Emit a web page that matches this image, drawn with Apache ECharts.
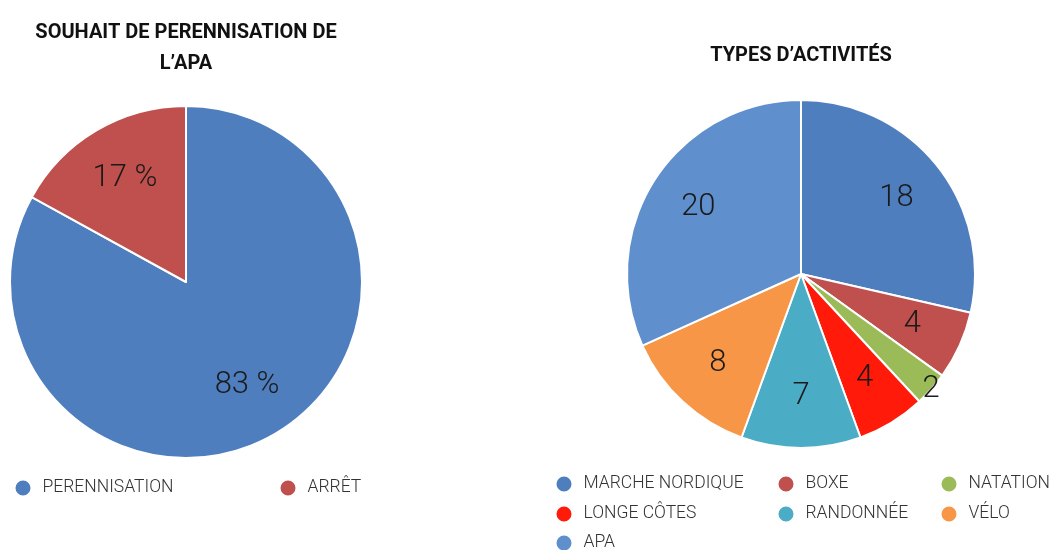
<!DOCTYPE html>
<html><head><meta charset="utf-8">
<script src="https://cdn.jsdelivr.net/npm/echarts@6/dist/echarts.min.js"></script>
<style>html,body{margin:0;padding:0;background:#fff}#c{width:1051px;height:550px}</style>
</head><body><div id="c"></div>
<script>
const leftTitle = "SOUHAIT DE PERENNISATION DE\nL’APA";
const leftCategories = ["PERENNISATION", "ARRÊT"];
const leftValues = [83, 17];
const leftColors = ["#4f7ebf", "#c0504d"];

const rightTitle = "TYPES D’ACTIVITÉS";
const rightCategories = ["MARCHE NORDIQUE", "BOXE", "NATATION", "LONGE CÔTES", "RANDONNÉE", "VÉLO", "APA"];
const rightValues = [18, 4, 2, 4, 7, 8, 20];
const rightColors = ["#4f7ebf", "#c0504d", "#9bbb59", "#ff1a0a", "#4bacc6", "#f79646", "#5f8fcc"];

const FONT = "Roboto, 'Liberation Sans Narrow', sans-serif";
const chart = echarts.init(document.getElementById('c'));

const L = {cx: 186, cy: 282, r: 176};
const R = {cx: 801, cy: 274, r: 174};

function pieData(names, vals, colors) {
  return names.map((n, i) => ({name: n, value: vals[i], itemStyle: {color: colors[i]}}));
}
function labelData(names, vals, hide) {
  return names.map((n, i) => ({name: n, value: vals[i], label: {show: !hide.includes(i)}}));
}
const labelStyle = {show: true, position: 'inside', color: '#1a1a1a', fontFamily: FONT, fontWeight: 300, fontSize: 31};
const legendText = {color: '#333', fontFamily: FONT, fontWeight: 300, fontSize: 17.5, padding: [0, 0, 0, 6]};

// legend item placement: [name, iconCenterX, rowCenterY]
const legendPlaces = [
  [leftCategories[0], 22, 487], [leftCategories[1], 287, 487],
  [rightCategories[0], 563, 483], [rightCategories[1], 785, 483], [rightCategories[2], 948, 483],
  [rightCategories[3], 563, 513], [rightCategories[4], 785, 513], [rightCategories[5], 948, 513],
  [rightCategories[6], 563, 542]
];
const legends = legendPlaces.map(([n, x, y]) => ({
  data: [n], left: x - 8.5, top: y - 8.5, icon: 'circle', itemWidth: 17, itemHeight: 17,
  padding: 0, textStyle: legendText, selectedMode: false
}));

chart.setOption({
  animation: false,
  title: [
    {text: leftTitle, left: L.cx, top: 17, textAlign: 'center', padding: 0,
     textStyle: {fontFamily: FONT, fontWeight: 'bold', fontSize: 20, color: '#111', lineHeight: 31}},
    {text: rightTitle, left: R.cx, top: 46, textAlign: 'center', padding: 0,
     textStyle: {fontFamily: FONT, fontWeight: 'bold', fontSize: 20, color: '#111'}}
  ],
  legend: legends,
  series: [
    {type: 'pie', center: [L.cx, L.cy], radius: [0, L.r], startAngle: 90, clockwise: true,
     itemStyle: {borderColor: '#fff', borderWidth: 2}, label: {show: false}, labelLine: {show: false},
     emphasis: {disabled: true}, data: pieData(leftCategories, leftValues, leftColors)},
    {type: 'pie', center: [L.cx, L.cy], radius: [0, L.r * 1.33], startAngle: 90, clockwise: true,
     itemStyle: {color: 'transparent'}, label: Object.assign({}, labelStyle, {formatter: '{c} %'}),
     labelLine: {show: false}, silent: true, legendHoverLink: false, emphasis: {disabled: true},
     data: labelData(leftCategories, leftValues, [])},
    {type: 'pie', center: [R.cx, R.cy], radius: [0, R.r], startAngle: 90, clockwise: true,
     itemStyle: {borderColor: '#fff', borderWidth: 2}, label: {show: false}, labelLine: {show: false},
     emphasis: {disabled: true}, data: pieData(rightCategories, rightValues, rightColors)},
    {type: 'pie', center: [R.cx, R.cy], radius: [0, R.r * 1.37], startAngle: 90, clockwise: true,
     itemStyle: {color: 'transparent'}, label: Object.assign({}, labelStyle, {formatter: '{c}'}),
     labelLine: {show: false}, silent: true, emphasis: {disabled: true},
     data: labelData(rightCategories, rightValues, [2])},
    {type: 'pie', center: [R.cx, R.cy], radius: [0, R.r * 1.96], startAngle: 90, clockwise: true,
     itemStyle: {color: 'transparent'}, label: Object.assign({}, labelStyle, {formatter: '{c}'}),
     labelLine: {show: false}, silent: true, emphasis: {disabled: true},
     data: labelData(rightCategories, rightValues, [0, 1, 3, 4, 5, 6])}
  ]
});
</script></body></html>
